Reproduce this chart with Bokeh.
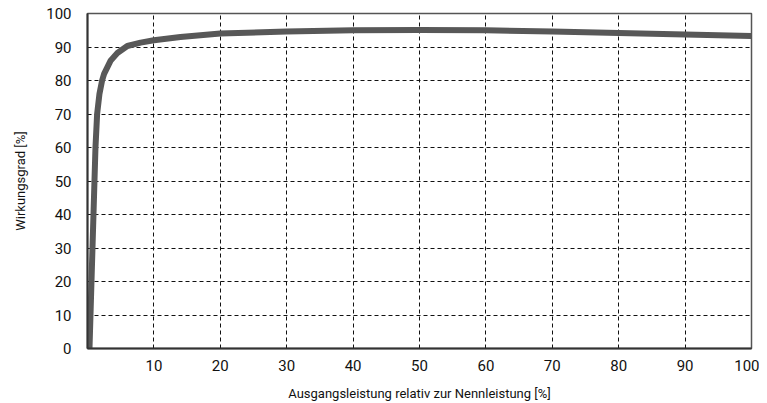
from bokeh.plotting import figure
from bokeh.models import FixedTicker, Range1d
from bokeh.embed import file_html
from bokeh.resources import INLINE

# Data
load_pct = [0.3, 0.45, 0.6, 0.75, 0.9, 1.05, 1.2, 1.45, 1.8, 2.2, 2.5, 3, 3.5, 4.5,
            6, 8, 10, 14, 20, 30, 40, 50, 60, 70, 80, 90, 100]
efficiency = [0, 10, 20, 30, 40, 50, 60, 70, 76, 80, 82, 84, 86, 88.2,
              90.3, 91.3, 92, 93, 94, 94.6, 95, 95.1, 95, 94.6, 94.2, 93.75, 93.25]
x_ticks = [10, 20, 30, 40, 50, 60, 70, 80, 90, 100]
y_ticks = [0, 10, 20, 30, 40, 50, 60, 70, 80, 90, 100]
x_label = "Ausgangsleistung relativ zur Nennleistung [%]"
y_label = "Wirkungsgrad [%]"

FONT = "Roboto"

p = figure(width=759, height=403, output_backend="svg", toolbar_location=None,
           x_range=Range1d(0, 100), y_range=Range1d(0, 100),
           min_border_left=87, min_border_right=8, min_border_top=13,
           min_border_bottom=54)

p.line(load_pct, efficiency, line_width=6, line_color="#585858",
       line_join="round")

p.outline_line_color = "#555555"
p.outline_line_width = 1.5

for ax, ticks in ((p.xaxis[0], x_ticks), (p.yaxis[0], y_ticks)):
    ax.ticker = FixedTicker(ticks=ticks)
    ax.major_tick_line_color = None
    ax.minor_tick_line_color = None
    ax.axis_line_color = "#333333"
    ax.axis_line_width = 2
    ax.major_label_text_font = FONT
    ax.major_label_text_font_size = "15px"
    ax.major_label_text_color = "#111111"
    ax.axis_label_text_font = FONT
    ax.axis_label_text_font_size = "13px"
    ax.axis_label_text_font_style = "normal"
    ax.axis_label_text_color = "#111111"

p.xaxis.axis_label = x_label
p.yaxis.axis_label = y_label
p.xaxis.major_label_standoff = 5
p.yaxis.major_label_standoff = 10
p.xaxis.axis_label_standoff = 12
p.yaxis.axis_label_standoff = 15

p.xgrid.ticker = FixedTicker(ticks=[t for t in x_ticks if t < 100])
p.ygrid.ticker = FixedTicker(ticks=[t for t in y_ticks if 0 < t < 100])
for g in (p.xgrid[0], p.ygrid[0]):
    g.grid_line_color = "#111111"
    g.grid_line_dash = "4 3"
    g.grid_line_width = 1

open("out.html", "w").write(file_html(p, INLINE))
